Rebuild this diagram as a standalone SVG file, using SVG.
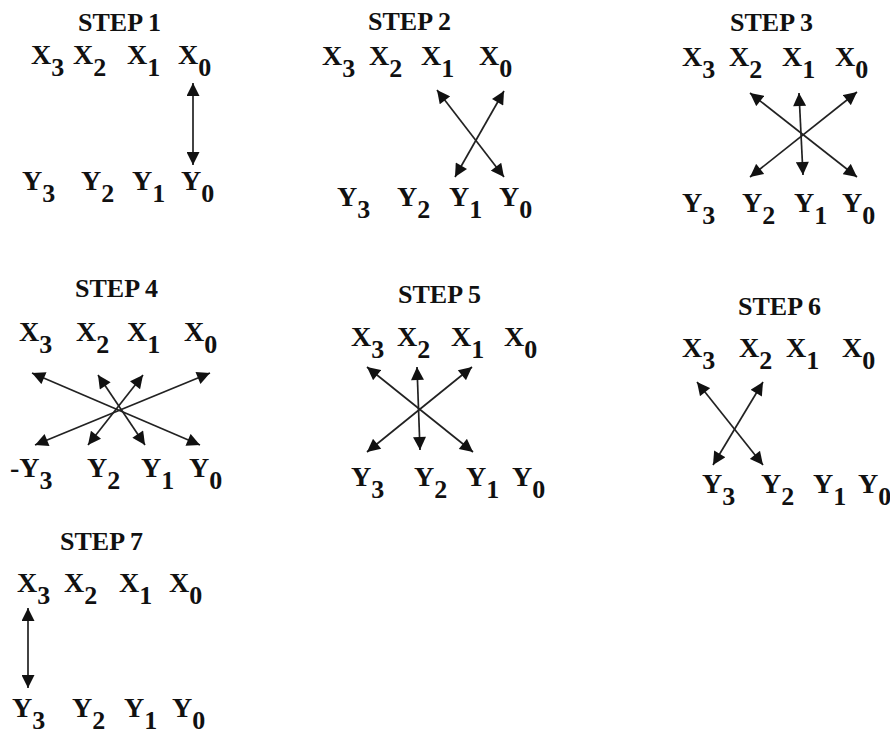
<svg xmlns="http://www.w3.org/2000/svg" width="890" height="734" viewBox="0 0 890 734">
<style>
text{font-family:"Liberation Serif","Times New Roman",serif;font-weight:bold;fill:#111}
.t{font-size:26px}
.v{font-size:28px}
.s{font-size:26px}
.c line{stroke:#222;stroke-width:1.7;fill:none;marker-start:url(#ah);marker-end:url(#ah)}
</style>
<defs>
<marker id="ah" viewBox="0 0 10 10" refX="10" refY="5" markerUnits="userSpaceOnUse" markerWidth="14" markerHeight="13" orient="auto-start-reverse">
<path d="M0,0 L10,5 L0,10 z" fill="#111"/>
</marker>
</defs>
<rect width="890" height="734" fill="#fff"/>

<!-- STEP 1 -->
<g id="step1">
<g id="s1-title"><text class="t" x="78" y="31">STEP 1</text></g>
<g id="s1-x3"><text class="v" x="31" y="64">X<tspan class="s" dy="12">3</tspan></text></g>
<g id="s1-x2"><text class="v" x="73" y="64">X<tspan class="s" dy="12">2</tspan></text></g>
<g id="s1-x1"><text class="v" x="127" y="64">X<tspan class="s" dy="12">1</tspan></text></g>
<g id="s1-x0"><text class="v" x="178" y="64">X<tspan class="s" dy="12">0</tspan></text></g>
<g id="s1-y3"><text class="v" x="22" y="190">Y<tspan class="s" dy="12">3</tspan></text></g>
<g id="s1-y2"><text class="v" x="81" y="190">Y<tspan class="s" dy="12">2</tspan></text></g>
<g id="s1-y1"><text class="v" x="132" y="190">Y<tspan class="s" dy="12">1</tspan></text></g>
<g id="s1-y0"><text class="v" x="181" y="190">Y<tspan class="s" dy="12">0</tspan></text></g>
</g>

<!-- STEP 2 -->
<g id="step2">
<g id="s2-title"><text class="t" x="368" y="30">STEP 2</text></g>
<g id="s2-x3"><text class="v" x="322" y="65">X<tspan class="s" dy="12">3</tspan></text></g>
<g id="s2-x2"><text class="v" x="369" y="65">X<tspan class="s" dy="12">2</tspan></text></g>
<g id="s2-x1"><text class="v" x="421" y="65">X<tspan class="s" dy="12">1</tspan></text></g>
<g id="s2-x0"><text class="v" x="479" y="65">X<tspan class="s" dy="12">0</tspan></text></g>
<g id="s2-y3"><text class="v" x="337" y="206">Y<tspan class="s" dy="12">3</tspan></text></g>
<g id="s2-y2"><text class="v" x="397" y="206">Y<tspan class="s" dy="12">2</tspan></text></g>
<g id="s2-y1"><text class="v" x="449" y="206">Y<tspan class="s" dy="12">1</tspan></text></g>
<g id="s2-y0"><text class="v" x="499" y="206">Y<tspan class="s" dy="12">0</tspan></text></g>
</g>

<!-- STEP 3 -->
<g id="step3">
<g id="s3-title"><text class="t" x="730" y="31">STEP 3</text></g>
<g id="s3-x3"><text class="v" x="682" y="66">X<tspan class="s" dy="12">3</tspan></text></g>
<g id="s3-x2"><text class="v" x="729" y="66">X<tspan class="s" dy="12">2</tspan></text></g>
<g id="s3-x1"><text class="v" x="782" y="66">X<tspan class="s" dy="12">1</tspan></text></g>
<g id="s3-x0"><text class="v" x="835" y="66">X<tspan class="s" dy="12">0</tspan></text></g>
<g id="s3-y3"><text class="v" x="682" y="212">Y<tspan class="s" dy="12">3</tspan></text></g>
<g id="s3-y2"><text class="v" x="742" y="212">Y<tspan class="s" dy="12">2</tspan></text></g>
<g id="s3-y1"><text class="v" x="794" y="212">Y<tspan class="s" dy="12">1</tspan></text></g>
<g id="s3-y0"><text class="v" x="842" y="212">Y<tspan class="s" dy="12">0</tspan></text></g>
</g>

<!-- STEP 4 -->
<g id="step4">
<g id="s4-title"><text class="t" x="75" y="297">STEP 4</text></g>
<g id="s4-x3"><text class="v" x="19" y="341">X<tspan class="s" dy="12">3</tspan></text></g>
<g id="s4-x2"><text class="v" x="76" y="341">X<tspan class="s" dy="12">2</tspan></text></g>
<g id="s4-x1"><text class="v" x="127" y="341">X<tspan class="s" dy="12">1</tspan></text></g>
<g id="s4-x0"><text class="v" x="184" y="341">X<tspan class="s" dy="12">0</tspan></text></g>
<g id="s4-y3"><text class="v" x="10" y="477">-Y<tspan class="s" dy="12">3</tspan></text></g>
<g id="s4-y2"><text class="v" x="87" y="477">Y<tspan class="s" dy="12">2</tspan></text></g>
<g id="s4-y1"><text class="v" x="141" y="477">Y<tspan class="s" dy="12">1</tspan></text></g>
<g id="s4-y0"><text class="v" x="189" y="477">Y<tspan class="s" dy="12">0</tspan></text></g>
</g>

<!-- STEP 5 -->
<g id="step5">
<g id="s5-title"><text class="t" x="398" y="303">STEP 5</text></g>
<g id="s5-x3"><text class="v" x="351" y="346">X<tspan class="s" dy="12">3</tspan></text></g>
<g id="s5-x2"><text class="v" x="397" y="346">X<tspan class="s" dy="12">2</tspan></text></g>
<g id="s5-x1"><text class="v" x="451" y="346">X<tspan class="s" dy="12">1</tspan></text></g>
<g id="s5-x0"><text class="v" x="504" y="346">X<tspan class="s" dy="12">0</tspan></text></g>
<g id="s5-y3"><text class="v" x="351" y="486">Y<tspan class="s" dy="12">3</tspan></text></g>
<g id="s5-y2"><text class="v" x="414" y="486">Y<tspan class="s" dy="12">2</tspan></text></g>
<g id="s5-y1"><text class="v" x="466" y="486">Y<tspan class="s" dy="12">1</tspan></text></g>
<g id="s5-y0"><text class="v" x="512" y="486">Y<tspan class="s" dy="12">0</tspan></text></g>
</g>

<!-- STEP 6 -->
<g id="step6">
<g id="s6-title"><text class="t" x="738" y="315">STEP 6</text></g>
<g id="s6-x3"><text class="v" x="682" y="357">X<tspan class="s" dy="12">3</tspan></text></g>
<g id="s6-x2"><text class="v" x="739" y="357">X<tspan class="s" dy="12">2</tspan></text></g>
<g id="s6-x1"><text class="v" x="786" y="357">X<tspan class="s" dy="12">1</tspan></text></g>
<g id="s6-x0"><text class="v" x="842" y="357">X<tspan class="s" dy="12">0</tspan></text></g>
<g id="s6-y3"><text class="v" x="702" y="493">Y<tspan class="s" dy="12">3</tspan></text></g>
<g id="s6-y2"><text class="v" x="761" y="493">Y<tspan class="s" dy="12">2</tspan></text></g>
<g id="s6-y1"><text class="v" x="813" y="493">Y<tspan class="s" dy="12">1</tspan></text></g>
<g id="s6-y0"><text class="v" x="858" y="493">Y<tspan class="s" dy="12">0</tspan></text></g>
</g>

<!-- STEP 7 -->
<g id="step7">
<g id="s7-title"><text class="t" x="60" y="550">STEP 7</text></g>
<g id="s7-x3"><text class="v" x="17" y="592">X<tspan class="s" dy="12">3</tspan></text></g>
<g id="s7-x2"><text class="v" x="64" y="592">X<tspan class="s" dy="12">2</tspan></text></g>
<g id="s7-x1"><text class="v" x="119" y="592">X<tspan class="s" dy="12">1</tspan></text></g>
<g id="s7-x0"><text class="v" x="169" y="592">X<tspan class="s" dy="12">0</tspan></text></g>
<g id="s7-y3"><text class="v" x="12" y="717">Y<tspan class="s" dy="12">3</tspan></text></g>
<g id="s7-y2"><text class="v" x="72" y="717">Y<tspan class="s" dy="12">2</tspan></text></g>
<g id="s7-y1"><text class="v" x="124" y="717">Y<tspan class="s" dy="12">1</tspan></text></g>
<g id="s7-y0"><text class="v" x="172" y="717">Y<tspan class="s" dy="12">0</tspan></text></g>
</g>

<!-- connectors -->
<g id="connectors" class="c">
<line x1="193" y1="83" x2="193" y2="165"/>
<line x1="437" y1="90" x2="504" y2="177"/>
<line x1="504" y1="91" x2="455" y2="177"/>
<line x1="750" y1="93" x2="857" y2="177"/>
<line x1="857" y1="92" x2="750" y2="177"/>
<line x1="799" y1="93" x2="803" y2="175"/>
<line x1="32" y1="373" x2="200" y2="445"/>
<line x1="210" y1="373" x2="35" y2="445"/>
<line x1="98" y1="375" x2="145" y2="445"/>
<line x1="143" y1="375" x2="88" y2="445"/>
<line x1="367" y1="367" x2="473" y2="452"/>
<line x1="472" y1="367" x2="367" y2="452"/>
<line x1="417" y1="367" x2="420" y2="450"/>
<line x1="697" y1="382" x2="763" y2="465"/>
<line x1="763" y1="382" x2="713" y2="465"/>
<line x1="28" y1="608" x2="28" y2="688"/>
</g>
</svg>
